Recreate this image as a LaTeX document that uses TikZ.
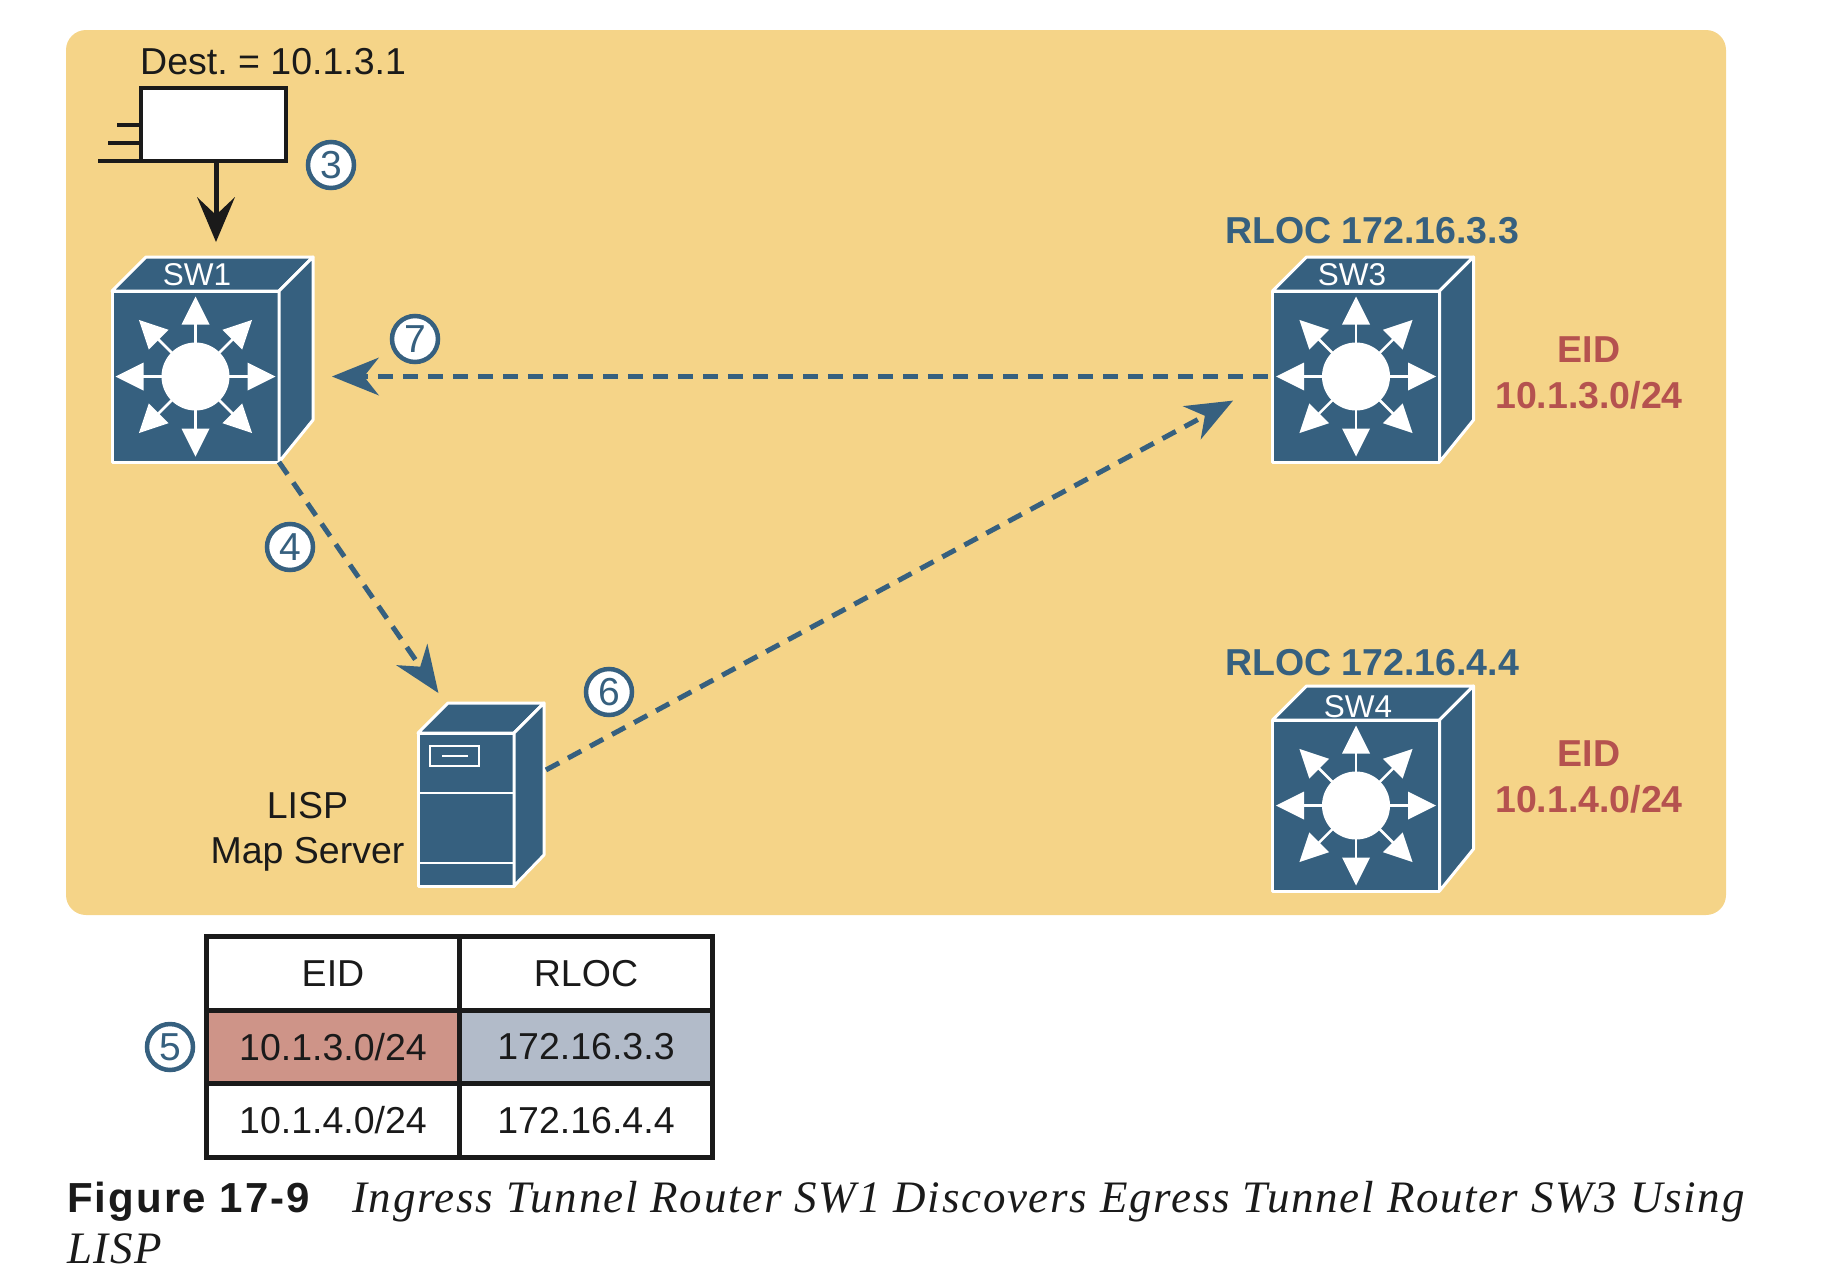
\documentclass[tikz,border=0pt]{standalone}
\usepackage{fontspec}
\setmainfont{Liberation Sans}
\newfontfamily\capserif[LetterSpace=3.85]{Liberation Serif}
\newfontfamily\figfont[LetterSpace=5]{Liberation Sans}
\usetikzlibrary{arrows.meta,calc}
\definecolor{lispblue}{HTML}{36607F}
\definecolor{panelcol}{HTML}{F5D488}
\definecolor{eidred}{HTML}{B5524F}
\definecolor{cellred}{HTML}{CE9488}
\definecolor{cellblue}{HTML}{B2BBC9}
\definecolor{inkblack}{HTML}{1A1A1A}
\newcommand{\fsz}[1]{\fontsize{#1}{#1}\selectfont}
\frenchspacing
\tikzset{
  swface/.style={draw=white,fill=lispblue,line width=3pt,line join=round,inner sep=0pt,outer sep=0pt,minimum width=167pt,minimum height=171pt},
  srvface/.style={draw=white,fill=lispblue,line width=3pt,line join=round,inner sep=0pt,outer sep=0pt,minimum width=96pt,minimum height=153pt},
  solidface/.style={draw=white,fill=lispblue,line width=3pt,line join=round},
  swlabel/.style={text=white,inner sep=0pt,font=\fsz{31.5}},
  txt/.style={text=inkblack,inner sep=0pt,font=\fsz{37.5},align=center},
  rloc/.style={text=lispblue,inner sep=0pt,font=\bfseries\fsz{37.5}},
  eid/.style={text=eidred,inner sep=0pt,font=\bfseries\fsz{37.5}},
  numcirc/.style={circle,draw=lispblue,fill=white,line width=4.5pt,minimum size=46pt,inner sep=0pt,text=lispblue,font=\fsz{39}},
  cell/.style={draw=inkblack,line width=5pt,inner sep=0pt,outer sep=0pt,minimum width=253pt,minimum height=73.5pt,text=inkblack,font=\fsz{37.5}},
  dashconn/.style={draw=lispblue,line width=5pt,dash pattern=on 15pt off 10pt,-{Stealth[length=47pt,width=38pt,inset=15pt,fill=lispblue,line width=0pt,sep=0pt]}},
  packetbox/.style={draw=inkblack,fill=white,line width=4.5pt,inner sep=0pt,outer sep=0pt,minimum width=145pt,minimum height=73pt},
}
\newcommand{\lisw}[5]{%
  \node[swface] (#1) at (#2,#3) {};
  \draw[solidface] (#1.north west) -- ++(34,-34) -- ++(167,0) -- ++(-34,34) -- cycle;
  \draw[solidface] (#1.north east) -- ++(34,-34) -- ++(0,163) -- (#1.south east) -- cycle;
  \begin{scope}[shift={(#2,#3)}]
    \foreach \a in {0,45,...,315} {
      \begin{scope}[rotate=\a]
        \fill[white] (52,-14) -- (80,0) -- (52,14) -- cycle;
        \draw[white,line width=2.5pt] (30,0) -- (54,0);
      \end{scope}
    }
    \fill[white] (0,0) circle[radius=34pt];
  \end{scope}
  \node[swlabel] (#1lab) at (#4,#5) {\MakeUppercase{#1}};
}
\begin{document}
\begin{tikzpicture}[x=1pt,y=-1pt]
\useasboundingbox (0,0) rectangle (1826,1266);
\fill[panelcol,rounded corners=20pt] (66,30) rectangle (1726,915);

% packet
\node[packetbox] (pkt) at (213.5,124.5) {};
\coordinate (sw1in) at (216,242);
\coordinate (sl1) at (117,125);
\coordinate (sl2) at (108,143);
\coordinate (sl3) at (98,161);
\draw[inkblack,line width=4.5pt] (sl1) -- (sl1 -| pkt.west);
\draw[inkblack,line width=4.5pt] (sl2) -- (sl2 -| pkt.west);
\draw[inkblack,line width=4.5pt] (sl3) -- (pkt.south west);
\node[txt,anchor=west] (dest) at (140,62) {Dest. = 10.1.3.1};
\draw[inkblack,line width=5pt,-{Stealth[length=45pt,width=38pt,inset=18pt,fill=inkblack,line width=0pt,sep=0pt]}] ([xshift=2.5pt]pkt.south) -- (sw1in);

% switches
\lisw{sw1}{195.5}{376.5}{197}{275}
\lisw{sw3}{1356}{376.5}{1352}{275}
\lisw{sw4}{1356}{805.5}{1358}{707}

% server
\node[srvface] (srv) at (466,809.5) {};
\draw[solidface] (srv.north west) -- ++(30,-30) -- ++(96,0) -- ++(-30,30) -- cycle;
\draw[solidface] (srv.north east) -- ++(30,-30) -- ++(0,152) -- (srv.south east) -- cycle;
\draw[white,line width=2pt] (srv.west |- 0,793) -- (srv.east |- 0,793);
\draw[white,line width=2pt] (srv.west |- 0,863) -- (srv.east |- 0,863);
\draw[white,line width=2.5pt] (430,746) rectangle (479,766);
\draw[white,line width=2pt] (442,756) -- (468,756);

% connectors
\draw[dashconn,shorten <=5pt,shorten >=53pt] (sw3.west) -- (sw1.east);
\draw[dashconn,shorten >=48.6pt] (sw1.south east) -- (srv.north);
\draw[dashconn,shorten <=36.3pt,shorten >=44.8pt] (srv.25) -- (sw3.182);

% text
\node[rloc] (rloc3) at (1372,231) {RLOC 172.16.3.3};
\node[rloc] (rloc4) at (1372,663) {RLOC 172.16.4.4};
\node[eid] (eid3) at (1589,350) {EID};
\node[eid] (eid3n) at (1589,395) {10.1.3.0/24};
\node[eid] (eid4) at (1589,754) {EID};
\node[eid] (eid4n) at (1589,799) {10.1.4.0/24};
\node[txt,anchor=base] (lisp) at (307.5,818) {LISP};
\node[txt,anchor=base] (mapsrv) at (307.5,863) {Map Server};

% numbered circles
\node[numcirc] (n3) at (331,165) {3};
\node[numcirc] (n7) at (415,339) {7};
\node[numcirc] (n4) at (290,547) {4};
\node[numcirc] (n6) at (609,692) {6};
\node[numcirc] (n5) at (170,1047) {5};

% table
\node[cell] (t11) at (333,973.5) {EID};
\node[cell] (t12) at (586,973.5) {RLOC};
\node[cell,fill=cellred] (t21) at (333,1047) {10.1.3.0/24};
\node[cell,fill=cellblue] (t22) at (586,1047) {172.16.3.3};
\node[cell] (t31) at (333,1120.5) {10.1.4.0/24};
\node[cell] (t32) at (586,1120.5) {172.16.4.4};

% caption
\node[anchor=base west,inner sep=0pt,text=inkblack,font=\figfont\bfseries\fsz{42}] (figno) at (67,1212) {Figure 17-9};
\node[anchor=base west,inner sep=0pt,text=inkblack,font=\capserif\itshape\fsz{45}] (cap1) at (352,1212) {Ingress Tunnel Router SW1 Discovers Egress Tunnel Router SW3 Using};
\node[anchor=base west,inner sep=0pt,text=inkblack,font=\capserif\itshape\fsz{45}] (cap2) at (67,1263) {LISP};
\end{tikzpicture}
\end{document}
